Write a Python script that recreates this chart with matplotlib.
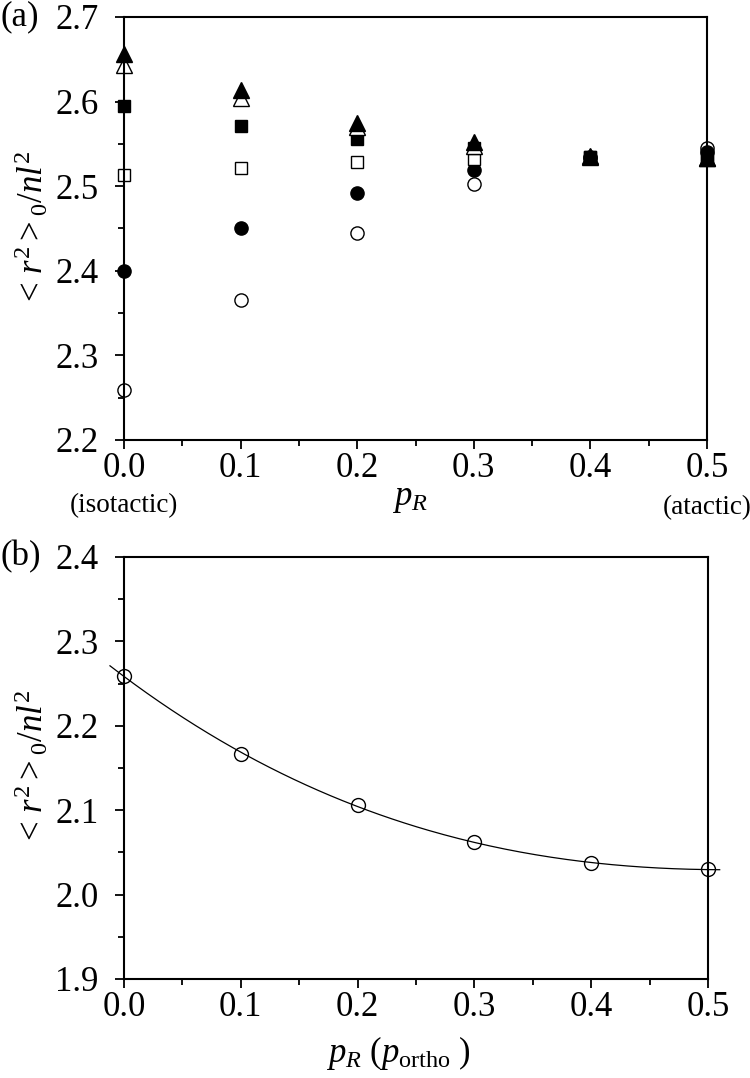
import numpy as np
import matplotlib
matplotlib.use("Agg")
import matplotlib.pyplot as plt
from matplotlib.ticker import MultipleLocator, FormatStrFormatter

plt.rcParams['font.family'] = ['Liberation Serif', 'DejaVu Serif']
plt.rcParams['mathtext.fontset'] = 'custom'
plt.rcParams['mathtext.rm'] = 'Liberation Serif'
plt.rcParams['mathtext.it'] = 'Liberation Serif:italic'
plt.rcParams['mathtext.bf'] = 'Liberation Serif:bold'

# panel (a) data
pR = [0.0, 0.1, 0.2, 0.3, 0.4, 0.5]
open_circle = [2.259, 2.365, 2.445, 2.503, 2.533, 2.545]
filled_circle = [2.400, 2.451, 2.492, 2.519, 2.534, 2.540]
open_square = [2.513, 2.521, 2.529, 2.532, 2.534, 2.536]
filled_square = [2.595, 2.571, 2.556, 2.545, 2.535, 2.535]
open_tri = [2.643, 2.604, 2.570, 2.548, 2.535, 2.533]
filled_tri = [2.656, 2.614, 2.575, 2.552, 2.536, 2.533]

# panel (b) data
pR_b = [0.0, 0.1, 0.2, 0.3, 0.4, 0.5]
r2_b = [2.259, 2.167, 2.106, 2.062, 2.037, 2.030]

fig = plt.figure(figsize=(7.5, 10.78), dpi=100)
W, H = 750.0, 1078.0
ax1 = fig.add_axes([124/W, 1-440/H, 583/W, 423/H])
ax2 = fig.add_axes([124/W, 1-979/H, 584/W, 422/H])

fs = 25
ylab = r'${<}\,r^{2}{>}_{0}/nl^{2}$'

def style(ax, ylo, yhi):
    ax.set_xlim(0, 0.5)
    ax.set_ylim(ylo, yhi)
    ax.xaxis.set_major_locator(MultipleLocator(0.1))
    ax.xaxis.set_minor_locator(MultipleLocator(0.05))
    ax.yaxis.set_major_locator(MultipleLocator(0.1))
    ax.yaxis.set_minor_locator(MultipleLocator(0.05))
    ax.xaxis.set_major_formatter(FormatStrFormatter('%.1f'))
    ax.yaxis.set_major_formatter(FormatStrFormatter('%.1f'))
    for s in ax.spines.values():
        s.set_linewidth(1.5)
    ax.tick_params(which='both', direction='out', top=False, right=False, width=1.3, labelsize=fs)
    ax.tick_params(which='major', length=6.5)
    ax.tick_params(which='minor', length=4.5)
    ax.tick_params(axis='y', which='major', pad=12)
    ax.tick_params(axis='x', which='major', pad=2)
    ax.set_ylabel(ylab, fontsize=fs)
    ax.yaxis.set_label_coords(-0.125, 0.5)

style(ax1, 2.2, 2.7)
style(ax2, 1.9, 2.4)

kw = dict(linestyle='none', color='black', markeredgecolor='black', markeredgewidth=1.0, clip_on=False)
ax1.plot(pR, open_circle, marker='o', markersize=9.5, markerfacecolor='white', **kw)
ax1.plot(pR, filled_circle, marker='o', markersize=9.5, markerfacecolor='black', **kw)
ax1.plot(pR, open_square, marker='s', markersize=8.5, markerfacecolor='white', **kw)
ax1.plot(pR, filled_square, marker='s', markersize=8.5, markerfacecolor='black', **kw)
ax1.plot(pR, open_tri, marker='^', markersize=11, markerfacecolor='white', **kw)
ax1.plot(pR, filled_tri, marker='^', markersize=11, markerfacecolor='black', **kw)

ax1.set_xlabel(r'$p_R$', fontsize=fs)
ax1.xaxis.set_label_coords(0.49, -0.1)
ax1.text(0.0, -0.156, '(isotactic)', transform=ax1.get_xaxis_transform(),
         ha='center', va='center', fontsize=19.5)
ax1.text(0.5, -0.16, '(atactic)', transform=ax1.get_xaxis_transform(),
         ha='center', va='center', fontsize=19.5)

# smooth fitted curve through panel (b) points
coef = np.polyfit(pR_b, r2_b, 3)
xs = np.linspace(-0.012, 0.51, 200)
ax2.plot(xs, np.polyval(coef, xs), color='black', lw=0.9, clip_on=False)
ax2.plot(pR_b, r2_b, marker='o', markersize=10, markerfacecolor='none', **kw)
ax2.set_xlabel(r'$p_R\ (p_{\mathrm{ortho}}\ )$', fontsize=fs)
ax2.xaxis.set_label_coords(0.47, -0.13)

fig.text(0.0, 1-17/H, '(a)', fontsize=fs, va='center', ha='left')
fig.text(0.0, 1-557/H, '(b)', fontsize=fs, va='center', ha='left')

fig.savefig('out.png', dpi=100)
